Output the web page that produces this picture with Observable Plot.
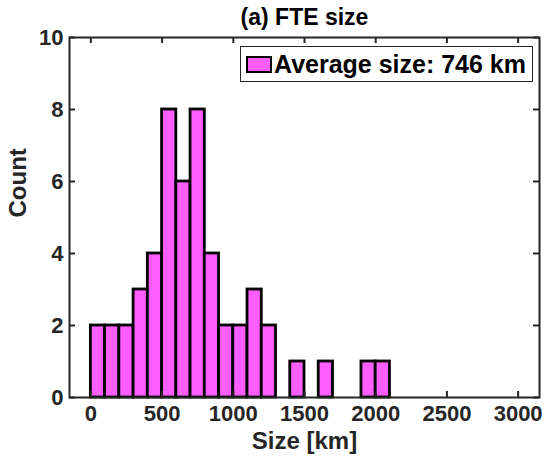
<!DOCTYPE html>
<html>
<head>
<meta charset="utf-8">
<script src="https://cdn.jsdelivr.net/npm/d3@7"></script>
<script src="https://cdn.jsdelivr.net/npm/@observablehq/plot@0.6"></script>
<style>
  html, body { margin: 0; padding: 0; background: white; }
  #wrap { position: relative; width: 544px; height: 468px; }
  #legend {
    position: absolute; left: 240px; top: 46px; width: 293px; height: 36px;
    box-sizing: border-box; border: 1.5px solid #262626; background: white;
    font-family: "Liberation Sans", Arial, sans-serif; font-weight: bold;
    font-size: 25px; color: #000; display: flex; align-items: center; white-space: nowrap;
  }
  #legend .sw {
    width: 26px; height: 17px; box-sizing: border-box; border: 2.5px solid #000;
    background: #ff5eff; margin-left: 5px; margin-right: 2px; flex: none;
  }
</style>
</head>
<body>
<div id="wrap"></div>
<script>
// Data
const binStarts = [0,100,200,300,400,500,600,700,800,900,1000,1100,1200,1300,1400,1500,1600,1700,1800,1900,2000];
const counts    = [2,2,2,3,4,8,6,8,4,2,2,3,2,0,1,0,1,0,0,1,1];
const binWidth = 100;
const xTicks = [0,500,1000,1500,2000,2500,3000];
const yTicks = [0,2,4,6,8,10];
const titleText = "(a) FTE size";
const xLabel = "Size [km]";
const yLabel = "Count";
const legendText = "Average size: 746 km";

const bars = binStarts.map((s, i) => ({x1: s, x2: s + binWidth, count: counts[i]})).filter(d => d.count > 0);

const W = 544, H = 468, mt = 37, ml = 69, mr = 5, mb = 71;
const fw = W - ml - mr, fh = H - mt - mb;
const axisColor = "#262626";

const chart = Plot.plot({
  width: W, height: H,
  marginTop: mt, marginLeft: ml, marginRight: mr, marginBottom: mb,
  x: {domain: [-150, 3150]},
  y: {domain: [0, 10]},
  style: {fontFamily: "'Liberation Sans', Arial, sans-serif", fontWeight: "bold", fontSize: "22px", color: axisColor, background: "white", overflow: "visible"},
  marks: [
    Plot.rectY(bars, {x1: "x1", x2: "x2", y: "count", fill: "#ff5eff", stroke: "black", strokeWidth: 2.8}),
    Plot.frame({stroke: axisColor, strokeWidth: 2}),
    Plot.tickX(xTicks, {x: d => d, stroke: axisColor, strokeWidth: 2, insetTop: fh - 6}),
    Plot.tickX(xTicks, {x: d => d, stroke: axisColor, strokeWidth: 2, insetBottom: fh - 6}),
    Plot.tickY(yTicks, {y: d => d, stroke: axisColor, strokeWidth: 2, insetRight: fw - 6}),
    Plot.tickY(yTicks, {y: d => d, stroke: axisColor, strokeWidth: 2, insetLeft: fw - 6}),
    Plot.axisX(xTicks, {tickSize: 0, tickPadding: 8, tickFormat: d => String(d), label: null, fontSize: 22, fill: axisColor}),
    Plot.axisY(yTicks, {tickSize: 0, tickPadding: 6, tickFormat: d => String(d), label: null, fontSize: 22, fill: axisColor}),
    Plot.text([titleText], {frameAnchor: "top", dy: -20, lineAnchor: "middle", fontSize: 23, fontWeight: "bold", fill: "black"}),
    Plot.text([xLabel], {frameAnchor: "bottom", dy: 44, lineAnchor: "middle", fontSize: 24, fontWeight: "bold", fill: axisColor}),
    Plot.text([yLabel], {frameAnchor: "left", dx: -51, rotate: -90, lineAnchor: "middle", fontSize: 24, fontWeight: "bold", fill: axisColor})
  ]
});

const wrap = document.getElementById("wrap");
wrap.appendChild(chart);
const lg = document.createElement("div");
lg.id = "legend";
lg.innerHTML = '<div class="sw"></div><span></span>';
lg.querySelector("span").textContent = legendText;
wrap.appendChild(lg);
</script>
</body>
</html>
